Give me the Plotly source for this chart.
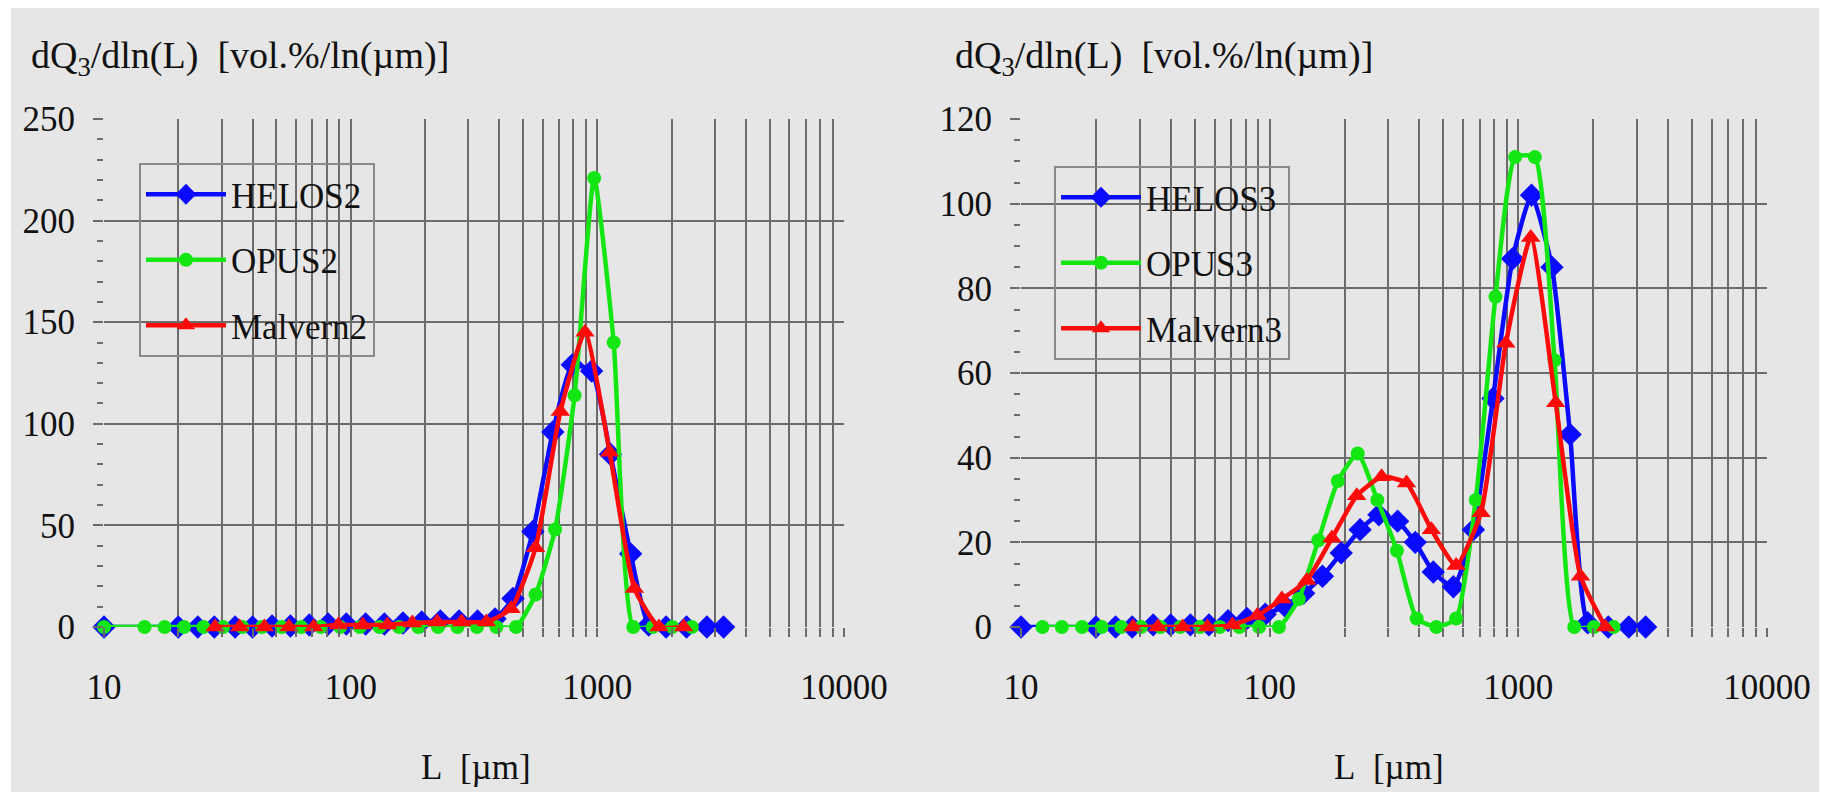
import plotly.graph_objects as go

W, H = 1822, 792

# ---------------- data ----------------
# left panel
helos2_x = [10, 20, 24, 28, 34, 40, 48, 57, 68, 81, 96, 115, 137, 163, 194, 231, 275, 327, 385,
            455, 548, 660, 791, 948, 1130, 1365, 1615, 1900, 2300, 2780, 3250]
helos2_y = [0, 0, 0, 0, 0, 0, 0.5, 0.5, 1, 1.5, 1.5, 1.5, 1.5, 2, 2.5, 3, 3, 3, 4,
            14, 47, 96, 129, 126, 85, 36, 1, 0, 0, 0, 0]
opus2_x = [10, 14.6, 17.6, 21.1, 25.3, 30.4, 36.4, 43.7, 52.5, 63, 75.6, 90.7, 109, 131, 157,
           188, 226, 271, 325, 390, 468, 562, 674, 809, 971, 1165, 1398, 1678, 2013, 2416]
opus2_y = [0, 0, 0, 0, 0, 0, 0, 0, 0, 0, 0, 0, 0, 0, 0,
           0, 0, 0, 0, 0, 0, 16, 48, 114, 221, 140, 0, 0, 0, 0]
malvern2_x = [28.2, 35.5, 44.7, 56.2, 70.8, 89.1, 112, 141, 178, 224, 282, 355, 447, 562, 708,
              891, 1122, 1413, 1778, 2239]
malvern2_y = [0, 0, 0, 0, 0, 1, 1, 1, 2, 2.5, 2.5, 2.5, 9, 39, 106, 145, 86, 19, 0, 0]

# right panel
helos3_x = [10, 20, 24, 28, 34, 40, 48, 57, 68, 81, 96, 115, 137, 163, 194, 231, 275, 327, 385,
            455, 548, 660, 791, 948, 1130, 1365, 1615, 1900, 2300, 2780, 3250]
helos3_y = [0, 0, 0, 0, 0.5, 0.5, 0.5, 0.5, 1.5, 2, 3, 5, 8, 12, 17.5, 23, 26.5, 25, 20,
            13, 9.5, 23, 54, 87, 102, 85, 45.5, 1, 0, 0, 0]
opus3_x = [12.2, 14.6, 17.6, 21.1, 25.3, 30.4, 36.4, 43.7, 52.5, 63, 75.6, 90.7, 109, 131, 157,
           188, 226, 271, 325, 390, 468, 562, 674, 809, 971, 1165, 1398, 1678, 2013, 2416]
opus3_y = [0, 0, 0, 0, 0, 0, 0, 0, 0, 0, 0, 0, 0, 6.6, 20.5,
           34.5, 41, 30, 18, 2, 0, 2, 30, 78, 111, 111, 63, 0, 0, 0]
malvern3_x = [28.2, 35.5, 44.7, 56.2, 70.8, 89.1, 112, 141, 178, 224, 282, 355, 447, 562, 708,
              891, 1122, 1413, 1778, 2239]
malvern3_y = [0, 0, 0, 0, 0.5, 2.7, 6.6, 11, 21, 31, 35.5, 34, 23, 14.5, 27, 67, 92, 53, 12, 0]

x_major = [10, 100, 1000, 10000]
x_major_text = ["10", "100", "1000", "10000"]
left_y_ticks = [0, 50, 100, 150, 200, 250]
right_y_ticks = [0, 20, 40, 60, 80, 100, 120]
y_title = "dQ<sub>3</sub>/dln(L)\u00a0\u00a0[vol.%/ln(\u00b5m)]"
x_title = "L\u00a0\u00a0[\u00b5m]"

# ---------------- styling ----------------
FONT = "Liberation Serif, Times New Roman, serif"
TXT = "#111111"
BG = "#e6e6e6"
GRID = "#6c6c6c"
BLUE, GREEN, RED = "#0a0aff", "#14e614", "#ff0a0a"
x_minor = [m * d for d in (10, 100, 1000) for m in range(2, 10)]

fig = go.Figure()

def add(x, y, name, color, symbol, size, xa, ya, legend, group):
    fig.add_trace(go.Scatter(
        x=x, y=y, name=name, mode="lines+markers",
        line=dict(color=color, width=4.5, shape="spline", smoothing=0.5),
        marker=dict(color=color, symbol=symbol, size=size, line=dict(width=0)),
        xaxis=xa, yaxis=ya, legend=legend, legendgroup=group, cliponaxis=False))

add(helos2_x, helos2_y, "HELOS2", BLUE, "diamond", 18, "x", "y", "legend", "a")
add(opus2_x, opus2_y, "OPUS2", GREEN, "circle", 14, "x", "y", "legend", "b")
add(malvern2_x, malvern2_y, "Malvern2", RED, "triangle-up", 17, "x", "y", "legend", "c")
add(helos3_x, helos3_y, "HELOS3", BLUE, "diamond", 18, "x2", "y2", "legend2", "d")
add(opus3_x, opus3_y, "OPUS3", GREEN, "circle", 14, "x2", "y2", "legend2", "e")
add(malvern3_x, malvern3_y, "Malvern3", RED, "triangle-up", 17, "x2", "y2", "legend2", "f")

def xaxis(domain, anchor):
    return dict(domain=domain, anchor=anchor, type="log", range=[1, 4], automargin=False,
                tickmode="array", tickvals=x_major, ticktext=x_major_text,
                showgrid=True, gridcolor=GRID, gridwidth=2,
                ticks="outside", ticklen=9, tickcolor=GRID, tickwidth=2,
                minor=dict(tickmode="array", tickvals=x_minor, showgrid=True,
                           gridcolor=GRID, gridwidth=2, ticks="outside",
                           ticklen=9, tickcolor=GRID, tickwidth=2),
                tickfont=dict(family=FONT, size=35, color=TXT),
                ticklabelstandoff=20, zeroline=False, showline=False)

def yaxis(domain, anchor, rng, ticks, mdt):
    return dict(domain=domain, anchor=anchor, range=rng, automargin=False,
                tickmode="array", tickvals=ticks,
                showgrid=True, gridcolor=GRID, gridwidth=2,
                ticks="outside", ticklen=10, tickcolor=GRID, tickwidth=2,
                minor=dict(dtick=mdt, ticks="outside", ticklen=6, tickcolor=GRID,
                           tickwidth=1.5, showgrid=False),
                tickfont=dict(family=FONT, size=35, color=TXT),
                ticklabelstandoff=11, zeroline=False, showline=False)

ydom = [1 - 627 / H, 1 - 119 / H]

legend_common = dict(font=dict(family=FONT, size=35, color=TXT),
                     bgcolor="rgba(0,0,0,0)", bordercolor="#8a8a8a", borderwidth=2,
                     xanchor="left", yanchor="top", tracegroupgap=17, itemwidth=80,
                     traceorder="grouped")

fig.update_layout(
    template="none",
    width=W, height=H,
    margin=dict(l=0, r=0, t=0, b=0, pad=0, autoexpand=False),
    paper_bgcolor="white", plot_bgcolor="rgba(0,0,0,0)",
    showlegend=True,
    xaxis=xaxis([104 / W, 844 / W], "y"),
    yaxis=yaxis(ydom, "x", [0, 250], left_y_ticks, 10),
    xaxis2=xaxis([1021 / W, 1767 / W], "y2"),
    yaxis2=yaxis(ydom, "x2", [0, 120], right_y_ticks, 5),
    legend=dict(x=139 / W, y=1 - 163 / H, **legend_common),
    legend2=dict(x=1054 / W, y=1 - 166 / H, **legend_common),
    shapes=[dict(type="rect", xref="paper", yref="paper", x0=11 / W, x1=1819 / W,
                 y0=0, y1=1 - 8 / H, fillcolor=BG, line=dict(width=0), layer="below")],
    annotations=[
        dict(text=y_title, x=29 / W, y=1 - 58 / H, xref="paper", yref="paper",
             xanchor="left", yanchor="middle", showarrow=False,
             font=dict(family=FONT, size=38, color=TXT)),
        dict(text=y_title, x=953 / W, y=1 - 58 / H, xref="paper", yref="paper",
             xanchor="left", yanchor="middle", showarrow=False,
             font=dict(family=FONT, size=38, color=TXT)),
        dict(text=x_title, x=476 / W, y=1 - 767 / H, xref="paper", yref="paper",
             xanchor="center", yanchor="middle", showarrow=False,
             font=dict(family=FONT, size=35, color=TXT)),
        dict(text=x_title, x=1389 / W, y=1 - 767 / H, xref="paper", yref="paper",
             xanchor="center", yanchor="middle", showarrow=False,
             font=dict(family=FONT, size=35, color=TXT)),
    ],
)

fig.write_html("out.html")
